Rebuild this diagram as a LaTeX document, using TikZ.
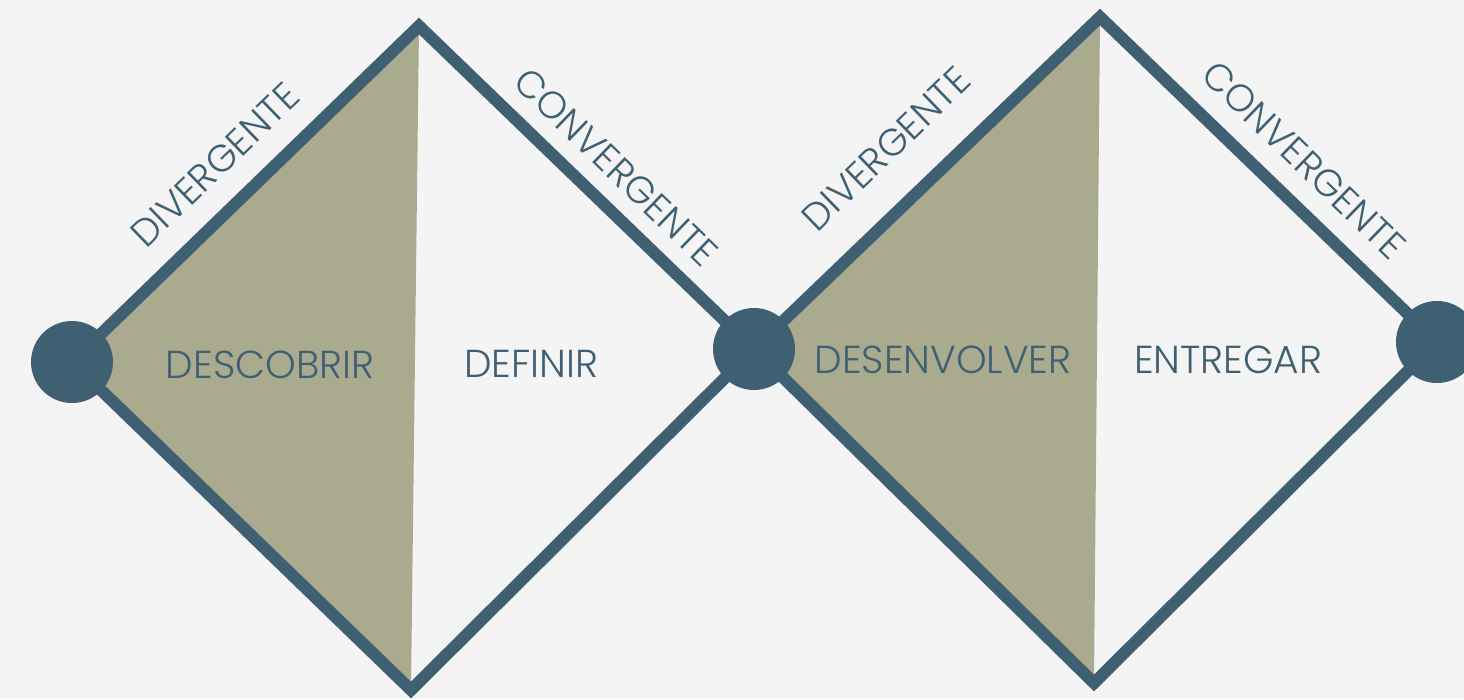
\documentclass[tikz,border=0pt]{standalone}
\usepackage{fontspec}
\setmainfont{Poppins Light}
\usepackage{tikz}

\definecolor{slate}{HTML}{3F6073}
\definecolor{sage}{HTML}{AAAB8E}
\definecolor{paper}{HTML}{F4F4F4}

\begin{document}
\begin{tikzpicture}[
    x=1pt, y=-1pt,
    edge/.style={draw=slate, line width=12pt, line join=miter},
    joint/.style={circle, fill=slate, minimum size=82pt, inner sep=0pt},
    phase/.style={text=slate, inner sep=0pt, font=\fontsize{39}{42}\selectfont},
    mode/.style={text=slate, inner sep=0pt, font=\fontsize{38}{41}\selectfont}
  ]
  \fill[paper] (0,0) rectangle (1464,699);
  \useasboundingbox (0,0) rectangle (1464,699);

  % corners of the two diamonds
  \coordinate (l1) at (72,362);
  \coordinate (t1) at (419,26);
  \coordinate (r1) at (754,349);
  \coordinate (b1) at (411,690);
  \coordinate (t2) at (1100,17);
  \coordinate (r2) at (1437,342);
  \coordinate (b2) at (1094,683);

  % shaded divergent halves
  \fill[sage] (l1) -- (t1) -- (b1) -- cycle;
  \fill[sage] (r1) -- (t2) -- (b2) -- cycle;

  \draw[edge] (l1) -- (t1) -- (r1) -- (b1) -- cycle;
  \draw[edge] (r1) -- (t2) -- (r2) -- (b2) -- cycle;

  \node[joint] (start) at (l1) {};
  \node[joint] (mid) at (r1) {};
  \node[joint] (end) at (r2) {};

  \node[mode, rotate=44] (div1) at (215,165) {DIVERGENTE};
  \node[mode, rotate=-44] (conv1) at (616,167) {CONVERGENTE};
  \node[mode, rotate=44] (div2) at (886,149) {DIVERGENTE};
  \node[mode, rotate=-44] (conv2) at (1304,160) {CONVERGENTE};

  \node[phase] (discover) at (270,365) {DESCOBRIR};
  \node[phase] (define) at (531,364) {DEFINIR};
  \node[phase] (develop) at (943,360) {DESENVOLVER};
  \node[phase] (deliver) at (1228,360) {ENTREGAR};
\end{tikzpicture}
\end{document}
